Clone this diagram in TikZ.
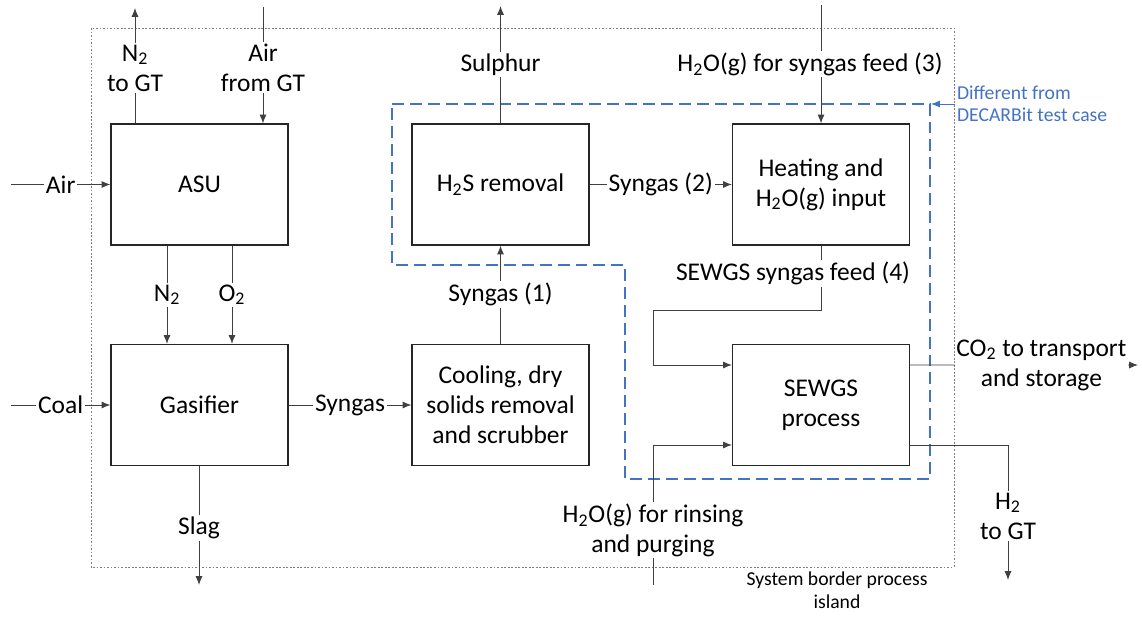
\documentclass[tikz,border=0pt]{standalone}
\usepackage{fontspec}
\setmainfont{Carlito}
\usetikzlibrary{arrows.meta}
\definecolor{flowgray}{HTML}{404040}
\definecolor{decblue}{HTML}{4472C4}
\newcommand\mainsize{\fontsize{14.5}{17.1}\selectfont}
\newcommand\notesize{\fontsize{11.2}{12.8}\selectfont}
\tikzset{unit/.style={draw=black!85,line width=0.7pt,minimum width=3.54cm,
        minimum height=2.42cm,align=center,font=\mainsize},
    stream/.style={draw=flowgray,line width=0.55pt,->},
    lbl/.style={fill=white,inner sep=1pt,align=center,font=\mainsize}}

\begin{document}
\begin{tikzpicture}[x=0.02cm,y=-0.02cm,>={Latex[length=5pt,width=4pt]}]
        \useasboundingbox (0,0) rectangle (1142,617);

        \draw[gray,line width=0.4pt,dash pattern=on 1pt off 1pt] (91,28) rectangle (954,567);
        \draw[decblue,line width=0.7pt,dash pattern=on 6.8pt off 3.4pt]
        (392,104) -- (930,104) -- (930,479) -- (625,479) -- (625,265) -- (392,265) -- cycle;

        \node[unit] (asu) at (199.5,184.5) {ASU};
        \node[unit] (gas) at (199.5,405) {Gasifier};
        \node[unit] (h2s) at (500.5,184.5) {H\textsubscript{2}S removal};
        \node[unit] (cool) at (500.5,405) {Cooling, dry\\solids removal\\and scrubber};
        \node[unit] (heat) at (821,184.5) {Heating and\\H\textsubscript{2}O(g) input};
        \node[unit] (sewgs) at (821,405) {SEWGS\\process};

        \coordinate (airin) at (11,184.5);
        \coordinate (coalin) at (11,405);
        \coordinate (n2gt) at (135,8);
        \coordinate (airgt) at (263,7);
        \coordinate (n2x) at (167,0);
        \coordinate (o2x) at (232,0);
        \coordinate (slag) at (199,585);
        \coordinate (sulphur) at (500.5,6);
        \coordinate (steam) at (821,5);
        \coordinate (bend) at (653,310);
        \coordinate (rinse) at (653,585);
        \coordinate (co2) at (1138,365);
        \coordinate (h2) at (1008,580);
        \coordinate (notetip) at (931,104);

        \draw[stream] (airin) -- node[lbl] {Air} (asu.west);
        \draw[stream] (coalin) -- node[lbl] {Coal} (gas.west);
        \draw[stream] (asu.north -| n2gt) -- node[lbl,pos=0.48] {N\textsubscript{2}\\to GT} (n2gt);
        \draw[stream] (airgt) -- node[lbl,pos=0.52] {Air\\from GT} (asu.north -| airgt);
        \draw[stream] (asu.south -| n2x) -- node[lbl] {N\textsubscript{2}} (gas.north -| n2x);
        \draw[stream] (asu.south -| o2x) -- node[lbl] {O\textsubscript{2}} (gas.north -| o2x);
        \draw[stream] (gas.south -| slag) -- node[lbl,pos=0.52] {Slag} (slag);
        \draw[stream] (gas) -- node[lbl] {Syngas} (cool);
        \draw[stream] (cool) -- node[lbl] {Syngas (1)} (h2s);
        \draw[stream] (h2s.north) -- node[lbl] {Sulphur} (sulphur);
        \draw[stream] (h2s) -- node[lbl] {Syngas (2)} (heat);
        \draw[stream] (steam) -- node[lbl,xshift=-0.22cm] {H\textsubscript{2}O(g) for syngas feed (3)} (heat.north);
        \draw[stream] (heat.south) -- node[lbl,pos=0.43,xshift=-0.56cm] {SEWGS syngas feed (4)}
        (heat.south |- bend) -- (bend) |- ([yshift=0.8cm]sewgs.west);
        \draw[stream] (rinse) |- node[lbl,pos=0.196] {H\textsubscript{2}O(g) for rinsing\\and purging}
        ([yshift=-0.8cm]sewgs.west);
        \draw[stream] ([yshift=0.8cm]sewgs.east) -- node[lbl,pos=0.576] {CO\textsubscript{2} to transport\\and storage} (co2);
        \draw[stream] ([yshift=-0.8cm]sewgs.east) -| node[lbl,pos=0.763] {H\textsubscript{2}\\to GT} (h2);

        \node[anchor=west,inner sep=1pt,text=decblue,font=\notesize,align=left] (note) at (955,104)
        {Different from\\DECARBit test case};
        \draw[decblue,line width=0.55pt,->] (note.west) -- (notetip);
        \node[font=\notesize,align=center] (border) at (837,590) {System border process\\island};
\end{tikzpicture}
\end{document}
